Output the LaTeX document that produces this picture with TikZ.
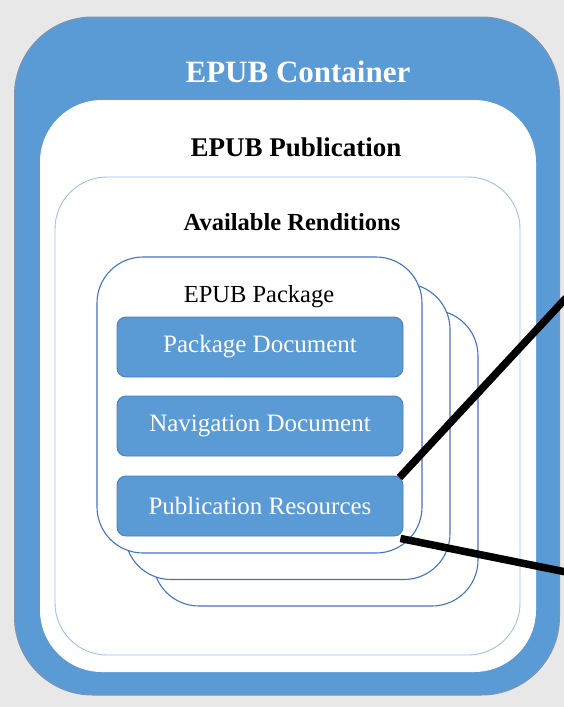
\documentclass[tikz,border=0pt]{standalone}
\usepackage{fontspec}
\setmainfont{Liberation Serif}
\definecolor{bg}{HTML}{E8E8E8}
\definecolor{epubblue}{HTML}{5B9BD5}
\definecolor{boxedge}{HTML}{4A7EBB}
\definecolor{pkgedge}{HTML}{4472C4}
\definecolor{rendedge}{HTML}{9DC3E6}
\definecolor{outeredge}{HTML}{7F95AD}
\tikzset{
  container/.style={rectangle, rounded corners=78pt, fill=epubblue, draw=outeredge, line width=1pt, inner sep=0pt},
  pubbox/.style={rectangle, rounded corners=62pt, fill=white, draw=none, inner sep=0pt},
  rendbox/.style={rectangle, rounded corners=52pt, fill=white, draw=rendedge, line width=0.9pt, inner sep=0pt},
  pkgbox/.style={rectangle, rounded corners=46pt, fill=white, draw=pkgedge, line width=1.1pt, inner sep=0pt, minimum width=325pt, minimum height=296pt},
  docbox/.style={rectangle, rounded corners=9pt, fill=epubblue, draw=boxedge, line width=0.9pt, inner sep=0pt, minimum width=286pt, minimum height=60pt, text=white, font=\fontsize{25}{25}\selectfont},
  title/.style={inner sep=0pt, anchor=center},
  pointer/.style={line width=7.5pt, black}
}
\begin{document}
\begin{tikzpicture}[x=1pt, y=-1pt]
\fill[bg] (0,0) rectangle (564,707);
\useasboundingbox (0,0) rectangle (564,707);
% outer container
\node[container, minimum width=545pt, minimum height=678pt] (cont) at (287,356) {};
\node[pubbox, minimum width=496pt, minimum height=572pt] (pub) at (288,386) {};
\node[rendbox, minimum width=465pt, minimum height=478pt] (rend) at (287.5,416) {};
% stacked packages
\node[pkgbox] (pkg3) at (315.5,458) {};
\node[pkgbox] (pkg2) at (287.5,431.5) {};
\node[pkgbox] (pkg1) at (259.5,405) {};
% labels
\node[title, text=white, font=\bfseries\fontsize{31}{31}\selectfont] (tcont) at (298,72) {EPUB Container};
\node[title, font=\bfseries\fontsize{27}{27}\selectfont] (tpub) at (296,147) {EPUB Publication};
\node[title, font=\bfseries\fontsize{24.5}{24.5}\selectfont] (trend) at (292,222) {Available Renditions};
\node[title, font=\fontsize{24.5}{24.5}\selectfont] (tpkg) at (259,297) {EPUB Package};
% documents
\node[docbox] (pd) at (260,347) {Package Document};
\node[docbox] (nd) at (260,426) {Navigation Document};
\node[docbox] (pr) at (260,506) {Publication Resources};
% pointers
\coordinate (e1) at (566,298);
\coordinate (e2) at (566,572);
\draw[pointer] ([xshift=-4pt,yshift=-2pt]pr.north east) -- (e1);
\draw[pointer] ([xshift=-3pt,yshift=-2pt]pr.south east) -- (e2);
\end{tikzpicture}
\end{document}
